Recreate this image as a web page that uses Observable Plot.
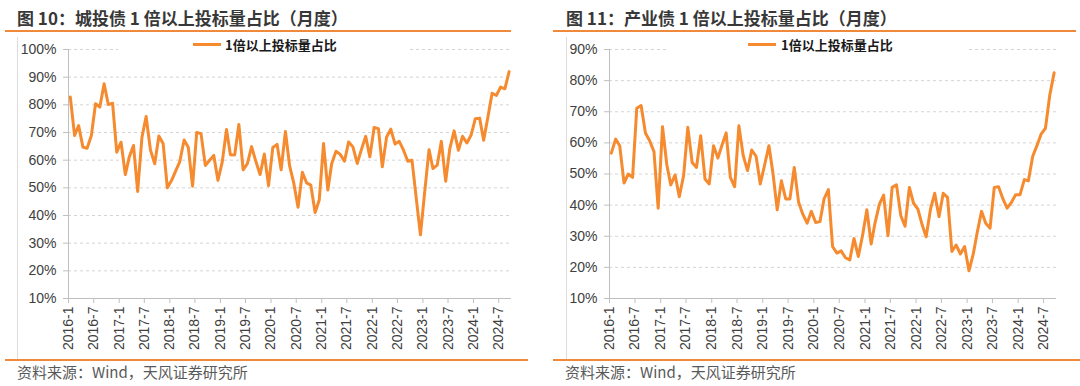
<!DOCTYPE html>
<html>
<head>
<meta charset="utf-8">
<script src="https://cdn.jsdelivr.net/npm/d3@7"></script>
<script src="https://cdn.jsdelivr.net/npm/@observablehq/plot@0.6"></script>
<style>
  html, body { margin: 0; padding: 0; background: #fff; }
  #root { position: relative; width: 1080px; height: 386px; overflow: hidden; font-family: "Noto Sans CJK SC", sans-serif; }
  .abs { position: absolute; }
  .title { font-size: 17px; font-weight: 700; color: #383838; line-height: 22px; white-space: nowrap; }
  .src { font-size: 15px; color: #595959; line-height: 20px; white-space: nowrap; }
  .hline { background: #F08A3A; height: 2px; }
  .vline { background: #dcdcdc; width: 1px; }
  .legbg { background: #fff; z-index: 5; }
  .swatch { background: #F58A2E; height: 3px; z-index: 6; }
  .legtxt { font-size: 13px; font-weight: 700; color: #1a1a1a; line-height: 17px; z-index: 6; white-space: nowrap; }
  .plot { position: absolute; top: 40px; }
</style>
</head>
<body>
<div id="root"></div>
<script>
// ---- Data ----
const startYear = 2016;
const seriesName = "1倍以上投标量占比";
const tickLabels = ["2016-1","2016-7","2017-1","2017-7","2018-1","2018-7","2019-1","2019-7",
  "2020-1","2020-7","2021-1","2021-7","2022-1","2022-7","2023-1","2023-7","2024-1","2024-7"];

// 城投债 1倍以上投标量占比 (%), monthly from 2016-1
const cityValues = [82.8, 68.9, 72.5, 64.7, 64.3, 68.9, 80.4, 79.2, 87.6, 80.1,
  80.6, 62.9, 66.5, 54.8, 61.1, 65.3, 48.7, 68.3, 75.8, 63.7,
  58.7, 68.7, 65.9, 50.0, 52.7, 56.3, 59.5, 67.3, 64.7, 50.6,
  70.0, 69.6, 58.1, 59.9, 61.7, 52.7, 59.3, 71.1, 62.0, 61.9,
  72.9, 56.5, 58.7, 64.9, 59.5, 54.8, 62.2, 50.8, 64.6, 65.7,
  56.5, 70.4, 58.0, 51.5, 43.0, 55.6, 51.8, 51.0, 41.1, 45.6,
  66.0, 49.2, 58.8, 63.2, 62.1, 59.6, 66.6, 64.8, 58.8, 63.8,
  68.6, 61.2, 71.8, 71.4, 57.6, 68.4, 71.2, 65.8, 66.8, 63.6,
  59.6, 60.0, 46.2, 33.0, 48.6, 63.8, 57.0, 58.2, 66.8, 52.4,
  64.2, 70.6, 63.6, 68.6, 66.2, 69.0, 75.0, 75.2, 67.2, 75.6,
  84.2, 83.4, 86.4, 85.8, 92.0];

// 产业债 1倍以上投标量占比 (%), monthly from 2016-1
const industryValues = [56.7, 61.2, 59.1, 47.1, 50.0, 48.9, 71.1, 72.0, 63.2, 60.7,
  57.2, 39.0, 65.2, 52.9, 46.5, 49.7, 42.7, 49.5, 65.0, 53.7,
  52.1, 62.3, 48.4, 46.8, 59.1, 55.1, 59.1, 63.2, 48.9, 45.9,
  65.5, 55.9, 51.1, 57.7, 55.7, 46.8, 52.9, 59.1, 50.5, 38.5,
  47.8, 42.0, 42.0, 52.1, 40.9, 37.1, 34.2, 38.0, 34.4, 34.7,
  42.0, 45.0, 26.7, 24.6, 25.3, 23.1, 22.4, 29.3, 23.5, 30.2,
  38.5, 27.5, 34.4, 40.3, 43.2, 30.2, 45.7, 46.5, 36.6, 33.2,
  45.7, 40.6, 38.7, 33.6, 29.8, 38.7, 43.8, 36.3, 43.8, 42.5,
  25.1, 27.2, 24.3, 26.7, 18.9, 24.3, 31.2, 38.0, 34.2, 32.6,
  45.7, 45.9, 42.0, 39.0, 40.9, 43.3, 43.3, 48.2, 47.8, 55.7,
  59.1, 62.9, 64.7, 75.4, 82.5];

const cityTicks = [10, 20, 30, 40, 50, 60, 70, 80, 90, 100];
const industryTicks = [10, 20, 30, 40, 50, 60, 70, 80, 90];

const panels = [
  { left: 0, title: "图 10：城投债 1 倍以上投标量占比（月度）", values: cityValues, yTicks: cityTicks,
    mL: 68, mR: 29, titleX: 17, lineX: 5, lineW: 506, botX: 5, botW: 523, vX: 17,
    legBg: [118, 289], swX: 193, txtX: 225, srcX: 17 },
  { left: 540, title: "图 11：产业债 1 倍以上投标量占比（月度）", values: industryValues, yTicks: industryTicks,
    mL: 69, mR: 24, titleX: 26, lineX: 13, lineW: 523, botX: 13, botW: 527, vX: 26,
    legBg: [128, 299], swX: 208, txtX: 241, srcX: 25 }
];

// ---- Build ----
const ORANGE = "#F58A2E";
const root = document.getElementById("root");
function el(cls, css, text) {
  const d = document.createElement("div");
  d.className = "abs " + cls;
  Object.assign(d.style, css);
  if (text) d.textContent = text;
  root.appendChild(d);
  return d;
}
function parseLabel(s) { const [y, m] = s.split("-").map(Number); return new Date(Date.UTC(y, m - 1, 1)); }
const tickDates = tickLabels.map(parseLabel);
const labelOf = new Map(tickDates.map((d, i) => [+d, tickLabels[i]]));

for (const p of panels) {
  const L = p.left;
  el("title", { left: (L + p.titleX) + "px", top: "7px" }, p.title);
  el("hline", { left: (L + p.lineX) + "px", top: "30px", width: p.lineW + "px" });
  el("vline", { left: (L + p.vX) + "px", top: "37px", height: "322px" });
  el("hline", { left: (L + p.botX) + "px", top: "359px", width: p.botW + "px" });
  el("src", { left: (L + p.srcX) + "px", top: "362px" }, "资料来源：Wind，天风证券研究所");
  el("legbg", { left: (L + p.legBg[0]) + "px", top: "37px", width: p.legBg[1] + "px", height: "16px" });
  el("swatch", { left: (L + p.swX) + "px", top: "43px", width: "28px" });
  el("legtxt", { left: (L + p.txtX) + "px", top: "36px" }, seriesName);

  const data = p.values.map((v, i) => ({ date: new Date(Date.UTC(startYear, i, 14)), value: v }));
  const yMin = p.yTicks[0], yMax = p.yTicks[p.yTicks.length - 1];
  const x0 = tickDates[0];
  const x1 = new Date(Date.UTC(startYear, p.values.length, 1));

  const chart = Plot.plot({
    width: 540, height: 320,
    marginLeft: p.mL, marginRight: p.mR, marginTop: 9, marginBottom: 62,
    style: { fontFamily: "'Liberation Sans', Arial, sans-serif", fontSize: "14px", background: "transparent", overflow: "visible" },
    x: { type: "utc", domain: [x0, x1] },
    y: { domain: [yMin, yMax] },
    marks: [
      Plot.gridY(p.yTicks.slice(1), { stroke: "#d4d4d4", strokeOpacity: 1, strokeDasharray: "3,3" }),
      Plot.ruleY([yMin], { stroke: "#bfbfbf" }),
      Plot.ruleX([x0], { stroke: "#bfbfbf" }),
      Plot.axisY(p.yTicks, { tickFormat: d => d + "%", tickSize: 5, tickPadding: 7, stroke: "#bfbfbf", fill: "#404040", label: null }),
      Plot.axisX(tickDates, { tickFormat: d => labelOf.get(+d), tickRotate: -90, tickSize: 5, tickPadding: 3, stroke: "#bfbfbf", fill: "#404040", label: null }),
      Plot.line(data, { x: "date", y: "value", stroke: ORANGE, strokeWidth: 3, strokeLinejoin: "round" })
    ]
  });
  chart.classList.add("plot");
  chart.style.left = L + "px";
  root.appendChild(chart);
}
</script>
</body>
</html>
